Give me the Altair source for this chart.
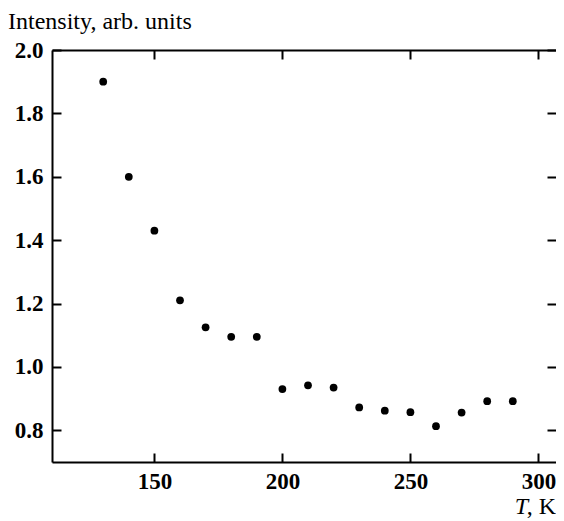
import altair as alt
import pandas as pd

temperature = [130, 140, 150, 160, 170, 180, 190, 200, 210, 220, 230, 240, 250, 260, 270, 280, 290]
intensity = [1.90, 1.60, 1.43, 1.21, 1.125, 1.095, 1.095, 0.93, 0.942, 0.935, 0.872, 0.862, 0.857, 0.813, 0.856, 0.892, 0.892]
x_ticks = [150, 200, 250, 300]
y_ticks = [0.8, 1.0, 1.2, 1.4, 1.6, 1.8, 2.0]
y_title = "Intensity, arb. units"

W, H = 504, 412
FONT = "Liberation Serif"

df = pd.DataFrame({"T": temperature, "I": intensity})

xscale = alt.Scale(domain=[110, 110 + W / 2.56], nice=False, zero=False)
yscale = alt.Scale(domain=[0.7, 2.0], nice=False, zero=False)

def xax(orient, labels, offset=0, ticks=False, domain=False):
    return alt.Axis(orient=orient, values=x_ticks, labels=labels, ticks=ticks,
                    tickSize=9 if ticks else 0, tickWidth=2, tickColor="black",
                    domain=domain, domainColor="black", domainWidth=2,
                    grid=False, title=None, offset=offset,
                    labelFont=FONT, labelFontSize=23, labelFontWeight="bold",
                    labelColor="black", labelPadding=8)

def yax(orient, labels, offset=0, ticks=False, domain=False):
    return alt.Axis(orient=orient, values=y_ticks, labels=labels, ticks=ticks,
                    tickSize=9 if ticks else 0, tickWidth=2, tickColor="black",
                    domain=domain, domainColor="black", domainWidth=2,
                    grid=False, title=None, offset=offset, format=".1f",
                    labelFont=FONT, labelFontSize=23, labelFontWeight="bold",
                    labelColor="black", labelPadding=9)

points = alt.Chart(df).mark_circle(size=60, color="black", opacity=1).encode(
    x=alt.X("T:Q", scale=xscale, axis=xax("bottom", True, domain=True)),
    y=alt.Y("I:Q", scale=yscale, axis=yax("left", True, domain=True)),
)

# inward ticks on bottom and left edges
ticks_a = alt.Chart(df).mark_circle(opacity=0).encode(
    x=alt.X("T:Q", scale=xscale, axis=xax("top", False, offset=-H, ticks=True)),
    y=alt.Y("I:Q", scale=yscale, axis=yax("right", False, offset=-W, ticks=True)),
)

# inward ticks on top and right edges, plus the top frame line
ticks_b = alt.Chart(df).mark_circle(opacity=0).encode(
    x=alt.X("T:Q", scale=xscale, axis=xax("bottom", False, offset=-H, ticks=True, domain=True)),
    y=alt.Y("I:Q", scale=yscale, axis=yax("left", False, offset=-W, ticks=True)),
)

title_df = pd.DataFrame({"label": [y_title]})
title_text = alt.Chart(title_df).mark_text(
    font=FONT, fontSize=24, align="left", baseline="alphabetic", color="black"
).encode(text="label:N", x=alt.value(-44), y=alt.value(-21))

xlab_df = pd.DataFrame({"a": ["T"], "b": [", K"]})
xlab_T = alt.Chart(xlab_df).mark_text(
    font=FONT, fontSize=24, fontStyle="italic", align="right", baseline="alphabetic", color="black"
).encode(text="a:N", x=alt.value(476), y=alt.value(464))
xlab_K = alt.Chart(xlab_df).mark_text(
    font=FONT, fontSize=24, align="right", baseline="alphabetic", color="black"
).encode(text="b:N", x=alt.value(504), y=alt.value(464))

chart = alt.layer(points, ticks_a, ticks_b, title_text, xlab_T, xlab_K).resolve_axis(
    x="independent", y="independent"
).properties(
    width=W, height=H,
    autosize=alt.AutoSizeParams(type="none"),
    padding={"left": 44, "top": 42, "right": 0, "bottom": 59},
).configure_view(stroke=None).configure(background="white")

chart.save("out.html", embed_options={"renderer": "svg", "actions": False})
